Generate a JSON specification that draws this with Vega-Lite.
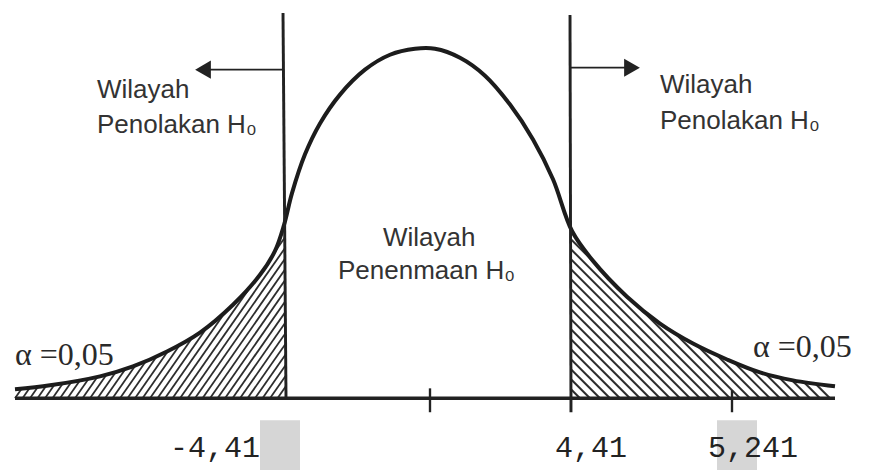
{
  "$schema": "https://vega.github.io/schema/vega-lite/v6.json",
  "width": 870,
  "height": 470,
  "autosize": {"type": "fit", "contains": "padding"},
  "padding": 0,
  "background": "white",
  "config": {"view": {"stroke": null}},
  "datasets": {
    "boxes": [
      {"x": -1.70, "x2": -1.30, "y": -0.22, "y2": -0.72},
      {"x": 2.87, "x2": 3.27, "y": -0.22, "y2": -0.72}
    ],
    "hatchL": [
      {"x": -4.15, "y": 0}, {"x": -4.075, "y": 0}, {"x": -4.0, "y": 0}, {"x": -3.925, "y": 0},
      {"x": -3.85, "y": 0}, {"x": -3.775, "y": 0}, {"x": -3.7, "y": 0}, {"x": -3.625, "y": 0},
      {"x": -3.55, "y": 0}, {"x": -3.475, "y": 0}, {"x": -3.4, "y": 0}, {"x": -3.325, "y": 0},
      {"x": -3.25, "y": 0}, {"x": -3.175, "y": 0}, {"x": -3.1, "y": 0}, {"x": -3.025, "y": 0},
      {"x": -2.95, "y": 0}, {"x": -2.875, "y": 0}, {"x": -2.8, "y": 0}, {"x": -2.725, "y": 0},
      {"x": -2.65, "y": 0}, {"x": -2.575, "y": 0}, {"x": -2.5, "y": 0}, {"x": -2.425, "y": 0},
      {"x": -2.35, "y": 0}, {"x": -2.275, "y": 0}, {"x": -2.2, "y": 0}, {"x": -2.125, "y": 0},
      {"x": -2.05, "y": 0}, {"x": -1.975, "y": 0}, {"x": -1.9, "y": 0}, {"x": -1.825, "y": 0},
      {"x": -1.75, "y": 0}, {"x": -1.675, "y": 0}, {"x": -1.6, "y": 0}, {"x": -1.525, "y": 0}
    ],
    "hatchR": [
      {"x": 1.5, "y": 0}, {"x": 1.6, "y": 0}, {"x": 1.7, "y": 0}, {"x": 1.8, "y": 0},
      {"x": 1.9, "y": 0}, {"x": 2.0, "y": 0}, {"x": 2.1, "y": 0}, {"x": 2.2, "y": 0},
      {"x": 2.3, "y": 0}, {"x": 2.4, "y": 0}, {"x": 2.5, "y": 0}, {"x": 2.6, "y": 0},
      {"x": 2.7, "y": 0}, {"x": 2.8, "y": 0}, {"x": 2.9, "y": 0}, {"x": 3.0, "y": 0},
      {"x": 3.1, "y": 0}, {"x": 3.2, "y": 0}, {"x": 3.3, "y": 0}, {"x": 3.4, "y": 0},
      {"x": 3.5, "y": 0}, {"x": 3.6, "y": 0}, {"x": 3.7, "y": 0}, {"x": 3.8, "y": 0},
      {"x": 3.9, "y": 0}, {"x": 4.0, "y": 0}
    ],
    "curve": [
      {"x": -4.15, "y": 0.09}, {"x": -3.80, "y": 0.13}, {"x": -3.30, "y": 0.22},
      {"x": -2.97, "y": 0.32}, {"x": -2.63, "y": 0.47}, {"x": -2.30, "y": 0.66},
      {"x": -1.97, "y": 0.94}, {"x": -1.70, "y": 1.24}, {"x": -1.55, "y": 1.48},
      {"x": -1.46, "y": 1.74}, {"x": -1.38, "y": 2.06}, {"x": -1.25, "y": 2.45},
      {"x": -1.10, "y": 2.76}, {"x": -0.90, "y": 3.05}, {"x": -0.65, "y": 3.30},
      {"x": -0.40, "y": 3.45}, {"x": -0.15, "y": 3.51}, {"x": 0.05, "y": 3.51},
      {"x": 0.30, "y": 3.42}, {"x": 0.55, "y": 3.24}, {"x": 0.80, "y": 2.95},
      {"x": 1.03, "y": 2.60}, {"x": 1.23, "y": 2.20}, {"x": 1.42, "y": 1.68},
      {"x": 1.63, "y": 1.38}, {"x": 1.97, "y": 1.02}, {"x": 2.30, "y": 0.75},
      {"x": 2.63, "y": 0.55}, {"x": 2.97, "y": 0.39}, {"x": 3.30, "y": 0.26},
      {"x": 3.63, "y": 0.18}, {"x": 4.05, "y": 0.12}
    ],
    "center": [
      {"x": -1.45, "x2": 1.41, "y": 0, "y2": 4}
    ],
    "segs": [
      {"x": -4.15, "x2": 4.05, "y": 0, "y2": 0, "k": "base"},
      {"x": -1.44, "x2": -1.47, "y": 0, "y2": 3.87, "k": "cut"},
      {"x": 1.41, "x2": 1.40, "y": -0.14, "y2": 3.85, "k": "cut"},
      {"x": 0, "x2": 0, "y": -0.14, "y2": 0.1, "k": "tick"},
      {"x": 3.02, "x2": 3.02, "y": -0.14, "y2": 0.08, "k": "tick"},
      {"x": -1.46, "x2": -2.2, "y": 3.30, "y2": 3.30, "k": "arrow"},
      {"x": 1.40, "x2": 1.95, "y": 3.32, "y2": 3.32, "k": "arrow"}
    ],
    "heads": [
      {"x": -2.27, "y": 3.30, "d": "left"},
      {"x": 2.02, "y": 3.32, "d": "right"}
    ],
    "sans": [
      {"x": -3.33, "y": 3.02, "t": "Wilayah"},
      {"x": -3.33, "y": 2.66, "t": "Penolakan H₀"},
      {"x": 2.30, "y": 3.07, "t": "Wilayah"},
      {"x": 2.30, "y": 2.70, "t": "Penolakan H₀"},
      {"x": -0.47, "y": 1.53, "t": "Wilayah"},
      {"x": -0.92, "y": 1.20, "t": "Penenmaan H₀"}
    ],
    "serif": [
      {"x": -4.15, "y": 0.33, "t": "α =0,05"},
      {"x": 3.23, "y": 0.41, "t": "α =0,05"}
    ],
    "mono": [
      {"x": -2.60, "y": -0.585, "t": "-4,41"},
      {"x": 1.25, "y": -0.585, "t": "4,41"},
      {"x": 2.78, "y": -0.585, "t": "5,241"}
    ]
  },
  "encoding": {
    "x": {"field": "x", "type": "quantitative", "scale": {"domain": [-4.3, 4.4], "nice": false, "zero": false}, "axis": null},
    "y": {"field": "y", "type": "quantitative", "scale": {"domain": [-0.7, 4.0], "nice": false, "zero": false}, "axis": null}
  },
  "layer": [
    {
      "data": {"name": "boxes"},
      "mark": {"type": "rect", "color": "#d6d6d6"},
      "encoding": {"x2": {"field": "x2"}, "y2": {"field": "y2"}}
    },
    {
      "data": {"name": "hatchL"},
      "mark": {"type": "rule", "x2Offset": 130, "y2Offset": -186, "strokeWidth": 1.8, "color": "#2e2e2e"},
      "encoding": {"x2": {"field": "x"}, "y2": {"field": "y"}}
    },
    {
      "data": {"name": "hatchR"},
      "mark": {"type": "rule", "x2Offset": -200, "y2Offset": -200, "strokeWidth": 2, "color": "#2e2e2e"},
      "encoding": {"x2": {"field": "x"}, "y2": {"field": "y"}}
    },
    {
      "data": {"name": "curve"},
      "mark": {"type": "area", "color": "white", "opacity": 1, "interpolate": "catmull-rom"},
      "encoding": {"y2": {"datum": 4}}
    },
    {
      "data": {"name": "center"},
      "mark": {"type": "rect", "color": "white"},
      "encoding": {"x2": {"field": "x2"}, "y2": {"field": "y2"}}
    },
    {
      "data": {"name": "curve"},
      "mark": {"type": "line", "color": "#1c1c1c", "strokeWidth": 4, "interpolate": "catmull-rom"},
      "encoding": {}
    },
    {
      "data": {"name": "segs"},
      "mark": {"type": "rule", "color": "#222222"},
      "encoding": {
        "x2": {"field": "x2"},
        "y2": {"field": "y2"},
        "strokeWidth": {"field": "k", "type": "nominal", "scale": {"domain": ["base", "cut", "tick", "arrow"], "range": [3.5, 1.8, 1.8, 2.5]}, "legend": null}
      }
    },
    {
      "data": {"name": "heads"},
      "mark": {"type": "point", "filled": true, "opacity": 1, "size": 330, "color": "#222222"},
      "encoding": {
        "shape": {"field": "d", "type": "nominal", "scale": {"domain": ["left", "right"], "range": ["triangle-left", "triangle-right"]}, "legend": null}
      }
    },
    {
      "data": {"name": "sans"},
      "mark": {"type": "text", "align": "left", "baseline": "alphabetic", "font": "Liberation Sans", "fontSize": 26, "color": "#333333"},
      "encoding": {"text": {"field": "t"}}
    },
    {
      "data": {"name": "serif"},
      "mark": {"type": "text", "align": "left", "baseline": "alphabetic", "font": "Liberation Serif", "fontSize": 32, "color": "#2a2a2a"},
      "encoding": {"text": {"field": "t"}}
    },
    {
      "data": {"name": "mono"},
      "mark": {"type": "text", "align": "left", "baseline": "alphabetic", "font": "Liberation Mono", "fontSize": 30, "color": "#222222"},
      "encoding": {"text": {"field": "t"}}
    }
  ]
}
